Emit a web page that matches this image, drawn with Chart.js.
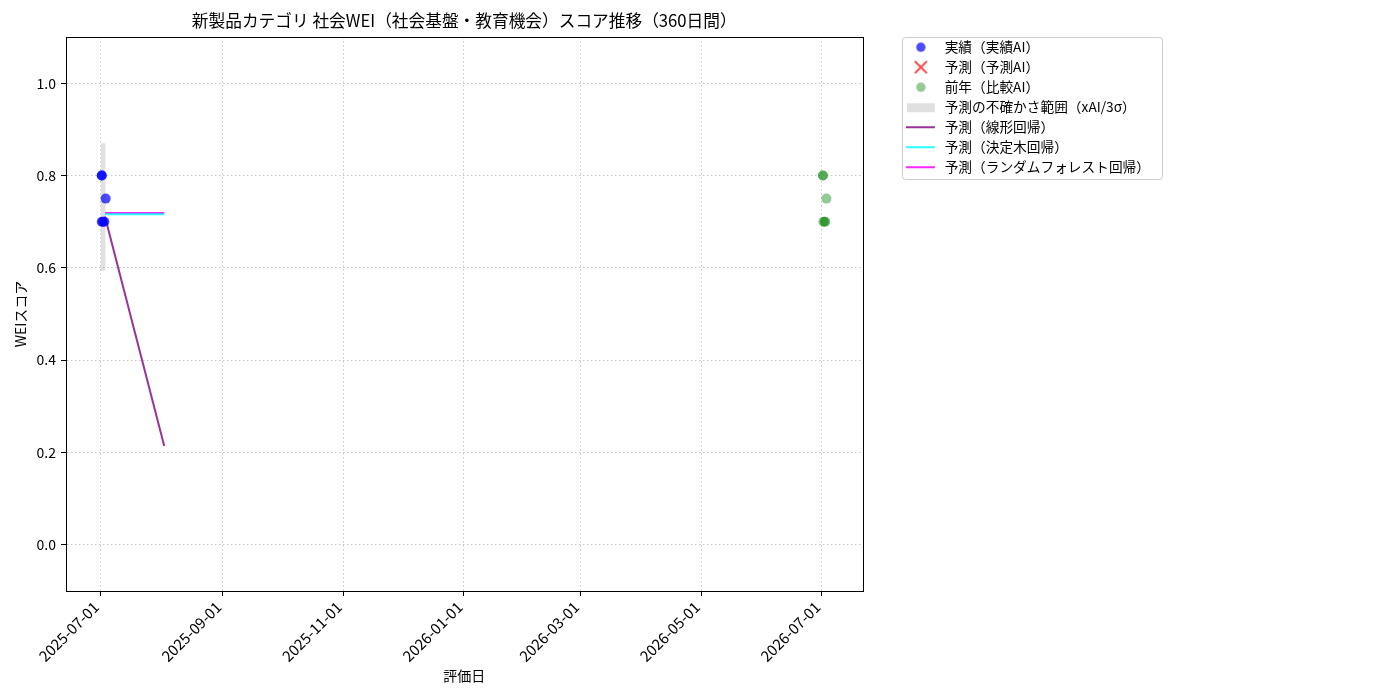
<!DOCTYPE html>
<html>
<head>
<meta charset="utf-8">
<script src="https://cdn.jsdelivr.net/npm/chart.js@4.4.1/dist/chart.umd.min.js"></script>
<style>
  html, body { margin: 0; padding: 0; background: #fff; }
</style>
</head>
<body>
<canvas id="weiChart" width="1400" height="700"></canvas>
<script>
const startDate = "2025-07-01T00:00";
const xTickLabels = ["2025-07-01", "2025-09-01", "2025-11-01", "2026-01-01", "2026-03-01", "2026-05-01", "2026-07-01"];
const yTickValues = [0.0, 0.2, 0.4, 0.6, 0.8, 1.0];

// 実績（実績AI）
const actualDates = ["2025-07-01T21:00", "2025-07-01T21:00", "2025-07-01T21:00", "2025-07-02T12:00", "2025-07-03T05:00", "2025-07-03T21:00"];
const actualScores = [0.8, 0.8, 0.7, 0.7, 0.7, 0.75];
// 予測（予測AI） - nothing plotted
const predAiDates = [];
const predAiScores = [];
// 前年（比較AI）
const prevDates = ["2026-07-01T16:00", "2026-07-01T16:00", "2026-07-01T21:00", "2026-07-02T12:00", "2026-07-02T21:00", "2026-07-03T10:00"];
const prevScores = [0.8, 0.8, 0.7, 0.7, 0.7, 0.75];
// 不確かさ範囲
const bandDates = ["2025-07-01T08:00", "2025-07-03T21:00"];
const bandUpper = [0.87, 0.87];
const bandLower = [0.594, 0.594];
// 回帰予測
const forecastDates = ["2025-07-03T12:00", "2025-08-02T12:00"];
const linearScores = [0.711, 0.214];
const treeScores = [0.716, 0.716];
const forestScores = [0.719, 0.719];

const FONT = "'Noto Sans CJK JP', 'Noto Sans', sans-serif";
const DAY = 86400000;
const t0 = Date.parse(startDate + "Z");
function toDay(s) {
  return (Date.parse((s.length === 10 ? s + "T00:00" : s) + "Z") - t0) / DAY;
}
function pts(dates, vals) {
  return dates.map((d, i) => ({ x: toDay(d), y: vals[i] }));
}

const colors = {
  actual: "rgba(0, 0, 255, 0.7)",
  predAi: "rgba(255, 0, 0, 0.7)",
  prev: "rgba(0, 128, 0, 0.42)",
  band: "rgba(128, 128, 128, 0.24)",
  linear: "rgba(128, 0, 128, 0.8)",
  tree: "rgba(0, 255, 255, 0.85)",
  forest: "rgba(255, 0, 255, 0.85)"
};

function marker(kind, color) {
  const c = document.createElement("canvas");
  c.width = 34; c.height = 14;
  const g = c.getContext("2d");
  if (kind === "dot") {
    g.fillStyle = color;
    g.beginPath(); g.arc(17, 7, 4.7, 0, Math.PI * 2); g.fill();
  } else if (kind === "cross") {
    g.strokeStyle = color; g.lineWidth = 2;
    g.beginPath(); g.moveTo(11, 1); g.lineTo(23, 13); g.moveTo(23, 1); g.lineTo(11, 13); g.stroke();
  } else if (kind === "rect") {
    g.fillStyle = color; g.fillRect(3, 3, 28, 9);
  } else {
    g.strokeStyle = color; g.lineWidth = 2;
    g.beginPath(); g.moveTo(2, 7); g.lineTo(31, 7); g.stroke();
  }
  return c;
}

const frameAndLegendBox = {
  id: "frameAndLegendBox",
  afterLayout(chart) {
    chart.legend.top -= 3;
    chart.legend.bottom -= 3;
  },
  afterDraw(chart) {
    const { ctx, chartArea: a, legend } = chart;
    ctx.save();
    ctx.strokeStyle = "#000";
    ctx.lineWidth = 1;
    ctx.strokeRect(Math.round(a.left) + 0.5, Math.round(a.top) + 0.5, Math.round(a.right - a.left), Math.round(a.bottom - a.top));
    const boxes = legend.legendHitBoxes;
    if (boxes && boxes.length) {
      const x0 = Math.round(legend.left) + 4;
      const y0 = Math.round(chart.chartArea.top);
      let x1 = 0;
      boxes.forEach(b => { x1 = Math.max(x1, b.left + b.width); });
      const last = boxes[boxes.length - 1];
      const y1 = last.top + last.height + 5;
      ctx.strokeStyle = "#cccccc";
      ctx.beginPath();
      ctx.roundRect(x0 + 0.5, y0 + 0.5, Math.round(x1 + 12 - x0), Math.round(y1 - y0), 3);
      ctx.stroke();
    }
    ctx.restore();
  }
};

const chart = new Chart(document.getElementById("weiChart"), {
  type: "scatter",
  data: {
    datasets: [
      {
        label: "実績（実績AI）",
        data: pts(actualDates, actualScores),
        backgroundColor: colors.actual,
        borderWidth: 0,
        pointRadius: 5,
        legendMarker: marker("dot", colors.actual)
      },
      {
        label: "予測（予測AI）",
        data: pts(predAiDates, predAiScores),
        pointStyle: "crossRot",
        borderColor: colors.predAi,
        legendMarker: marker("cross", colors.predAi)
      },
      {
        label: "前年（比較AI）",
        data: pts(prevDates, prevScores),
        backgroundColor: colors.prev,
        borderWidth: 0,
        pointRadius: 5,
        legendMarker: marker("dot", colors.prev)
      },
      {
        label: "",
        data: pts(bandDates, bandLower),
        showLine: true,
        borderWidth: 0,
        pointRadius: 0
      },
      {
        label: "予測の不確かさ範囲（xAI/3σ）",
        data: pts(bandDates, bandUpper),
        showLine: true,
        borderWidth: 0,
        pointRadius: 0,
        fill: "-1",
        backgroundColor: colors.band,
        legendMarker: marker("rect", "#e0e0e0")
      },
      {
        label: "予測（線形回帰）",
        data: pts(forecastDates, linearScores),
        showLine: true,
        borderColor: colors.linear,
        borderWidth: 2,
        pointRadius: 0,
        legendMarker: marker("line", colors.linear)
      },
      {
        label: "予測（決定木回帰）",
        data: pts(forecastDates, treeScores),
        showLine: true,
        borderColor: colors.tree,
        borderWidth: 2,
        pointRadius: 0,
        legendMarker: marker("line", colors.tree)
      },
      {
        label: "予測（ランダムフォレスト回帰）",
        data: pts(forecastDates, forestScores),
        showLine: true,
        borderColor: colors.forest,
        borderWidth: 2,
        pointRadius: 0,
        legendMarker: marker("line", colors.forest)
      }
    ]
  },
  options: {
    responsive: false,
    animation: false,
    layout: { padding: { left: 0, right: 240, top: 0, bottom: 0 } },
    plugins: {
      title: {
        display: true,
        fullSize: false,
        text: "新製品カテゴリ 社会WEI（社会基盤・教育機会）スコア推移（360日間）",
        color: "#000",
        font: { family: FONT, size: 16.7, weight: "normal" },
        padding: { top: 11, bottom: 6 }
      },
      legend: {
        position: "right",
        align: "start",
        fullSize: false,
        maxWidth: 400,
        labels: {
          usePointStyle: true,
          pointStyleWidth: 34,
          padding: 6.3,
          color: "#000",
          font: { family: FONT, size: 13.7 },
          generateLabels(chart) {
            return chart.data.datasets
              .map((ds, i) => ({
                text: ds.label,
                pointStyle: ds.legendMarker,
                datasetIndex: i,
                hidden: false,
                lineWidth: 0,
                fillStyle: "transparent",
                strokeStyle: "transparent",
                fontColor: "#000"
              }))
              .filter(l => l.text);
          }
        }
      },
      tooltip: { enabled: false }
    },
    scales: {
      x: {
        type: "linear",
        min: -17.2,
        max: 385.7,
        afterBuildTicks(scale) {
          scale.ticks = xTickLabels.map(d => ({ value: toDay(d) }));
        },
        afterFit(scale) { scale.height = 109; },
        ticks: {
          color: "#000",
          font: { family: FONT, size: 15 },
          minRotation: 45,
          maxRotation: 45,
          padding: 2,
          labelOffset: -4,
          callback(v) {
            const i = xTickLabels.findIndex(d => Math.abs(toDay(d) - v) < 0.01);
            return i >= 0 ? xTickLabels[i] : "";
          }
        },
        grid: { color: "rgba(0,0,0,0.22)", tickColor: "#000", tickLength: 5, tickBorderDash: [] },
        border: { color: "#000", dash: [1.5, 2.5] },
        title: {
          display: true,
          text: "評価日",
          color: "#000",
          font: { family: FONT, size: 14 },
          padding: { top: 0, bottom: 15.6 }
        }
      },
      y: {
        min: -0.1,
        max: 1.1,
        afterBuildTicks(scale) {
          scale.ticks = yTickValues.map(v => ({ value: v }));
        },
        afterFit(scale) { scale.width = 66; },
        ticks: {
          color: "#000",
          font: { family: FONT, size: 14 },
          padding: 5,
          callback: v => v.toFixed(1)
        },
        grid: { color: "rgba(0,0,0,0.22)", tickColor: "#000", tickLength: 5, tickBorderDash: [] },
        border: { color: "#000", dash: [1.5, 2.5] },
        title: {
          display: true,
          text: "WEIスコア",
          color: "#000",
          font: { family: FONT, size: 14 },
          padding: { top: 12.3, bottom: 4 }
        }
      },
      yPad: {
        position: "right",
        afterFit(scale) { scale.width = 35; },
        ticks: { display: false },
        grid: { display: false, drawTicks: false },
        border: { display: false }
      }
    }
  },
  plugins: [frameAndLegendBox]
});

// make the plot area end where the legend column should start
chart.options.layout.padding.right = Math.round(1400 - 898 - chart.legend.width);
chart.update();
</script>
</body>
</html>
